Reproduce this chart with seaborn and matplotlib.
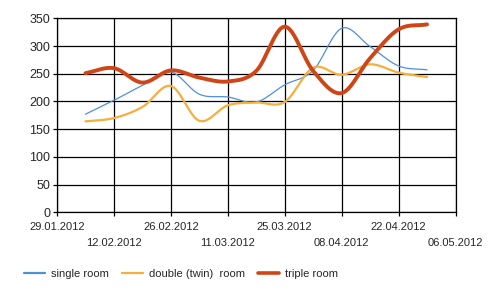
import numpy as np
import pandas as pd
import matplotlib
matplotlib.use("Agg")
import matplotlib.pyplot as plt
import matplotlib.dates as mdates
from matplotlib.lines import Line2D
import seaborn as sns

# ---- data ----
dates = ["05.02.2012", "12.02.2012", "19.02.2012", "26.02.2012", "04.03.2012",
         "11.03.2012", "18.03.2012", "25.03.2012", "01.04.2012", "08.04.2012",
         "15.04.2012", "22.04.2012", "29.04.2012"]
single_room = [177, 202, 229, 253, 213, 208, 199, 230, 256, 332, 299, 264, 257]
double_room = [164, 170, 190, 228, 165, 193, 198, 199, 261, 248, 267, 252, 244]
triple_room = [251, 260, 234, 256, 243, 236, 255, 335, 255, 215, 278, 330, 339]
series_names = ["single room", "double (twin)  room", "triple room"]
y_ticks = [0, 50, 100, 150, 200, 250, 300, 350]
x_start, x_end = "29.01.2012", "06.05.2012"

colors = ["#4f8fdb", "#f7ae3b", "#cf4516"]
widths = [0.9, 1.6, 2.8]

sns.set_style("white")
plt.rcParams["font.family"] = ["Liberation Sans", "DejaVu Sans"]

fig = plt.figure(figsize=(5.0, 2.96), dpi=100)
ax = fig.add_axes([0.114, 0.2828, 0.797, 0.6554])

x = pd.to_datetime(dates, format="%d.%m.%Y")
xn = mdates.date2num(x)


def smooth(xv, yv, per=12):
    """Cardinal (Catmull-Rom) display smoothing through the data points."""
    yv = np.asarray(yv, float)
    n = len(yv)
    m = np.zeros(n)
    m[1:-1] = (yv[2:] - yv[:-2]) / 2.0
    m[0] = (yv[1] - yv[0])
    m[-1] = (yv[-1] - yv[-2])
    xs, ys = [], []
    for i in range(n - 1):
        t = np.linspace(0, 1, per, endpoint=(i == n - 2))
        h00 = 2 * t**3 - 3 * t**2 + 1
        h10 = t**3 - 2 * t**2 + t
        h01 = -2 * t**3 + 3 * t**2
        h11 = t**3 - t**2
        ys.append(h00 * yv[i] + h10 * m[i] + h01 * yv[i + 1] + h11 * m[i + 1])
        xs.append(xv[i] + t * (xv[i + 1] - xv[i]))
    return np.concatenate(xs), np.concatenate(ys)


for name, vals, c, w in zip(series_names, [single_room, double_room, triple_room], colors, widths):
    sx, sy = smooth(xn, vals)
    df = pd.DataFrame({"date": mdates.num2date(sx), "value": sy})
    sns.lineplot(data=df, x="date", y="value", color=c, linewidth=w, ax=ax,
                 solid_capstyle="round", zorder=3)

xs = pd.to_datetime(x_start, format="%d.%m.%Y")
xe = pd.to_datetime(x_end, format="%d.%m.%Y")
ax.set_xlim(xs, xe)
ax.set_ylim(0, 350)
ax.set_yticks(y_ticks)
ax.set_xlabel("")
ax.set_ylabel("")

all_ticks = pd.date_range(xs, xe, freq="14D")
major = all_ticks[::2]
minor = all_ticks[1::2]
ax.set_xticks(major)
ax.set_xticks(minor, minor=True)
ax.set_xticklabels([d.strftime("%d.%m.%Y") for d in major])
ax.set_xticklabels([d.strftime("%d.%m.%Y") for d in minor], minor=True)

ax.grid(True, which="both", color="black", linewidth=0.9)
ax.set_axisbelow(True)
for s in ax.spines.values():
    s.set_color("black")
    s.set_linewidth(0.9)

ax.tick_params(axis="x", which="major", length=3, width=0.9, color="black",
               labelsize=8, pad=3.8, direction="out", bottom=True)
ax.tick_params(axis="x", which="minor", length=3, width=0.9, color="black",
               labelsize=8, pad=15.3, direction="out", bottom=True)
ax.tick_params(axis="y", length=3, width=0.9, color="black", labelsize=9,
               pad=2, direction="out", left=True)

handles = [Line2D([0], [0], color=c, linewidth=lw) for c, lw in zip(colors, [1.6, 1.6, 2.6])]
fig.legend(handles, series_names, loc="center left", bbox_to_anchor=(24 / 500, 1 - 274 / 296),
           ncol=3, frameon=False, fontsize=8, handlelength=1.9, handletextpad=0.55,
           columnspacing=1.15, borderpad=0, borderaxespad=0)

fig.savefig("out.png", dpi=100)
